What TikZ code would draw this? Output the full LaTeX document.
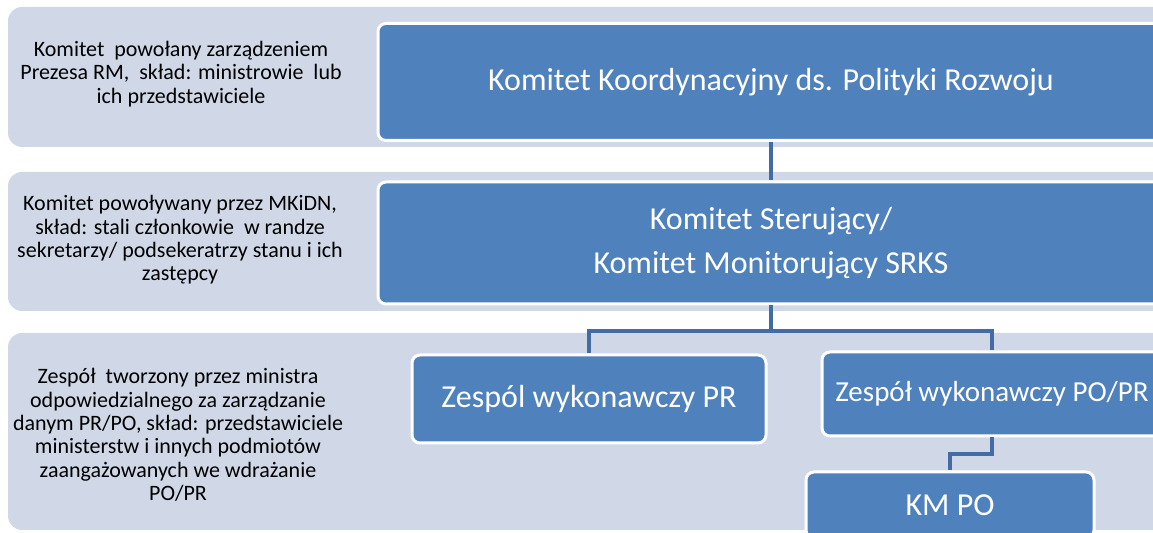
\documentclass[tikz,border=0pt]{standalone}
\usepackage{fontspec}
\setmainfont{Carlito}
\usetikzlibrary{positioning}
\definecolor{bandgray}{RGB}{208,216,232}
\definecolor{boxblue}{RGB}{79,129,189}
\definecolor{linkblue}{RGB}{66,108,163}

\begin{document}
\begin{tikzpicture}[x=0.5pt,y=-0.5pt,
  band/.style={fill=bandgray,rounded corners=7pt},
  note/.style={align=center,text=black,font=\fontsize{11}{11.7}\selectfont},
  unit/.style={draw=white,line width=1.5pt,fill=boxblue,rounded corners=4pt,
    text=white,align=center,inner sep=0pt,font=\fontsize{16}{18}\selectfont},
  link/.style={draw=linkblue,line width=2pt}]
\useasboundingbox (0,0) rectangle (1153,533);
\clip (0,0) rectangle (1153,533);
% rows
\fill[band] (8,7) rectangle (1190,147);
\fill[band] (8,172) rectangle (1190,311);
\fill[band] (8,333) rectangle (1190,530);
% descriptions
\node[note] (opis1) at (181,74) {Komitet\ \ powołany zarządzeniem\\Prezesa RM,\ \ skład: ministrowie\ \ lub\\ich przedstawiciele};
\node[note] (opis2) at (180,240) {Komitet powoływany przez MKiDN,\\skład: stali członkowie\ \ w randze\\sekretarzy/ podsekeratrzy stanu i ich\\zastępcy};
\node[note] (opis3) at (178,435) {Zespół\ \ tworzony przez ministra\\odpowiedzialnego za zarządzanie\\danym PR/PO, skład: przedstawiciele\\ministerstw i innych podmiotów\\zaangażowanych we wdrażanie\\PO/PR};
% structure
\node[unit,minimum width=393pt,minimum height=58.5pt] (kkpr) at (771,82) {Komitet Koordynacyjny ds. Polityki Rozwoju};
\node[unit,minimum width=393pt,minimum height=61pt] (ks) at (771,243) {Komitet Sterujący/\\[4pt]Komitet Monitorujący SRKS};
\node[unit,minimum width=177pt,minimum height=44pt] (zwpr) at (589,399) {Zespól wykonawczy PR};
\node[unit,minimum width=170pt,minimum height=42pt,font=\fontsize{14.5}{18}\selectfont] (zwpo) at (992,394) {Zespół wykonawczy PO/PR};
\node[unit,minimum width=144pt,minimum height=33pt] (kmpo) at (950,505) {KM PO};
\draw[link] (kkpr.south) -- (ks.north);
\draw[link] (ks.south) -- ++(0,26) coordinate (rozg) -| (zwpr.north);
\draw[link] (rozg) -| (zwpo.north);
\draw[link] (zwpo.south) -- ++(0,17) -| (kmpo.north);
\end{tikzpicture}
\end{document}
